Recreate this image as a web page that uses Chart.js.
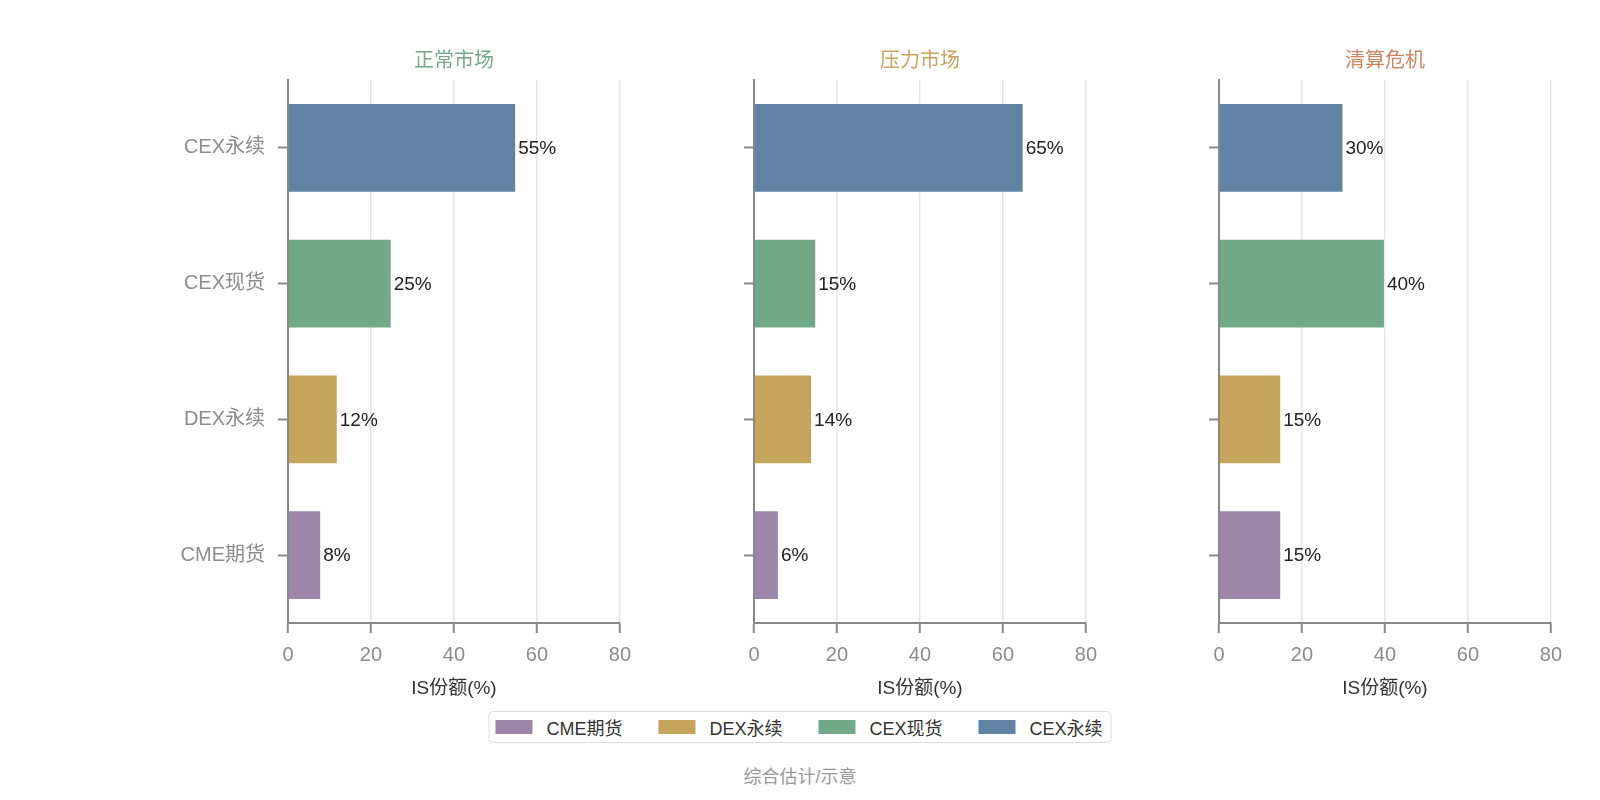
<!DOCTYPE html>
<html>
<head>
<meta charset="utf-8">
<script src="https://cdn.jsdelivr.net/npm/chart.js@4.4.1/dist/chart.umd.min.js"></script>
<style>
  html, body { margin: 0; padding: 0; background: #ffffff; }
  body { width: 1600px; height: 800px; position: relative; overflow: hidden;
         font-family: 'Liberation Sans', 'Noto Sans CJK SC', sans-serif; }
  canvas.panel { position: absolute; top: 0; }
  #legend { position: absolute; left: 50%; transform: translateX(-50%); top: 711px; height: 30px;
            border: 1.5px solid #dddddd; border-radius: 4px; display: flex; align-items: center;
            padding: 0 8px 0 6px; box-sizing: content-box; white-space: nowrap; }
  .item { display: flex; align-items: center; margin-right: 36px; font-size: 18px; color: #333; }
  .item:last-child { margin-right: 0; }
  .sw { width: 37px; height: 14px; margin-right: 14px; }
  #footer { position: absolute; left: 0; width: 1600px; top: 766px; text-align: center;
            font-size: 18px; color: #999; line-height: 22px; }
</style>
</head>
<body>
<canvas id="c0" class="panel" width="463" height="700" style="left:178px;width:463px;height:700px"></canvas>
<canvas id="c1" class="panel" width="463" height="700" style="left:644px;width:463px;height:700px"></canvas>
<canvas id="c2" class="panel" width="463" height="700" style="left:1109px;width:463px;height:700px"></canvas>
<div id="legend"></div>
<div id="footer">综合估计/示意</div>
<script>
// ---- data ----
const categories = ['CEX永续', 'CEX现货', 'DEX永续', 'CME期货'];
const panelTitles = ['正常市场', '压力市场', '清算危机'];
const normalValues = [55, 25, 12, 8];
const stressValues = [65, 15, 14, 6];
const crisisValues = [30, 40, 15, 15];
const xTicks = [0, 20, 40, 60, 80];
const legendOrder = ['CME期货', 'DEX永续', 'CEX现货', 'CEX永续'];
const xAxisTitle = 'IS份额(%)';

// ---- styles ----
const categoryColors = {
  'CEX永续': '#6082a3',
  'CEX现货': '#70a888',
  'DEX永续': '#c5a55b',
  'CME期货': '#9c86a9'
};
const titleColors = ['#74a88b', '#c9a45c', '#cf8560'];
const FONT = "'Liberation Sans', 'Noto Sans CJK SC', sans-serif";

const valueLabelPlugin = {
  id: 'valueLabels',
  afterDatasetsDraw(chart) {
    const ctx = chart.ctx;
    ctx.save();
    ctx.font = '19px ' + FONT;
    ctx.fillStyle = '#222';
    ctx.textAlign = 'left';
    ctx.textBaseline = 'middle';
    chart.data.datasets.forEach((ds, di) => {
      chart.getDatasetMeta(di).data.forEach((el, i) => {
        ctx.fillText(ds.data[i] + '%', el.x + 2, el.y + 1);
      });
    });
    ctx.restore();
  }
};

const panelTitlePlugin = {
  id: 'panelTitle',
  afterDraw(chart, args, opts) {
    const ctx = chart.ctx;
    const a = chart.chartArea;
    ctx.save();
    ctx.font = '20px ' + FONT;
    ctx.fillStyle = opts.color;
    ctx.textAlign = 'center';
    ctx.textBaseline = 'middle';
    ctx.fillText(opts.text, (a.left + a.right) / 2, a.top - 19);
    ctx.restore();
  }
};

const panelValues = [normalValues, stressValues, crisisValues];

panelValues.forEach((vals, p) => {
  new Chart(document.getElementById('c' + p), {
    type: 'bar',
    data: {
      labels: categories,
      datasets: [{
        data: vals,
        backgroundColor: categories.map(c => categoryColors[c]),
        borderColor: 'rgba(255,255,255,0.3)',
        borderWidth: 1,
        categoryPercentage: 0.66,
        barPercentage: 1
      }]
    },
    options: {
      indexAxis: 'y',
      responsive: false,
      animation: false,
      devicePixelRatio: 1,
      layout: { padding: { left: 0, right: 20, top: 80, bottom: 0 } },
      plugins: {
        legend: { display: false },
        tooltip: { enabled: false },
        title: { display: false },
        panelTitle: { text: panelTitles[p], color: titleColors[p] }
      },
      scales: {
        x: {
          type: 'linear',
          min: 0, max: 80,
          afterBuildTicks: s => { s.ticks = xTicks.map(v => ({ value: v })); },
          afterFit: s => { s.height = 77; },
          grid: { color: '#e6e6e6', lineWidth: 1.5, tickColor: '#888', tickWidth: 2, tickLength: 10, drawTicks: true },
          border: { display: true, color: '#888', width: 2 },
          ticks: { color: '#8c8c8c', font: { family: FONT, size: 20 }, padding: 10, maxRotation: 0 },
          title: { display: true, text: xAxisTitle, color: '#333',
                   font: { family: FONT, size: 19, lineHeight: 1.2 }, padding: { top: 0, bottom: 0 } }
        },
        y: {
          type: 'category',
          afterFit: s => { s.width = 110; },
          grid: { display: true, drawOnChartArea: false, offset: false, tickColor: '#888', tickWidth: 2, tickLength: 10 },
          border: { display: true, color: '#888', width: 2 },
          ticks: { display: p === 0, color: '#8c8c8c', font: { family: FONT, size: 20 }, padding: 13 }
        }
      }
    },
    plugins: [valueLabelPlugin, panelTitlePlugin]
  });
});

// ---- legend ----
const legend = document.getElementById('legend');
legendOrder.forEach(name => {
  const item = document.createElement('div');
  item.className = 'item';
  const sw = document.createElement('span');
  sw.className = 'sw';
  sw.style.background = categoryColors[name];
  const tx = document.createElement('span');
  tx.textContent = name;
  item.appendChild(sw);
  item.appendChild(tx);
  legend.appendChild(item);
});
</script>
</body>
</html>
